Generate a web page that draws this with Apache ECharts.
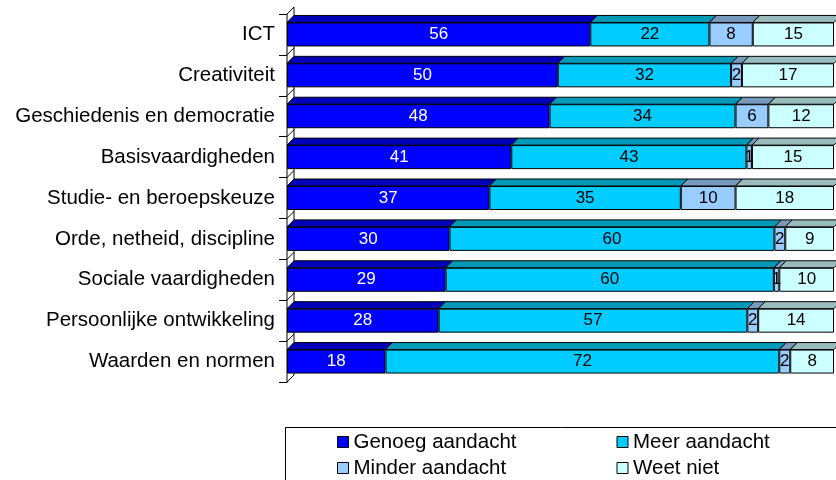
<!DOCTYPE html>
<html><head><meta charset="utf-8">
<script src="https://cdn.jsdelivr.net/npm/echarts@6/dist/echarts.min.js"></script>
<style>html,body{margin:0;padding:0;background:#fff}#c{width:836px;height:480px}</style>
</head><body><div id="c"></div>
<script>
const categories = ['ICT','Creativiteit','Geschiedenis en democratie','Basisvaardigheden','Studie- en beroepskeuze','Orde, netheid, discipline','Sociale vaardigheden','Persoonlijke ontwikkeling','Waarden en normen'];
const genoeg   = [56,50,48,41,37,30,29,28,18];
const meer     = [22,32,34,43,35,60,60,57,72];
const minder   = [8,2,6,1,10,2,1,2,2];
const weetNiet = [15,17,12,15,18,9,10,14,8];
const seriesNames = ['Genoeg aandacht','Meer aandacht','Minder aandacht','Weet niet'];

const raw = [genoeg, meer, minder, weetNiet];
const frontColors = ['#0000FF','#00CCFF','#99CCFF','#CCFFFF'];
const topColors = ['#0000B8','#0099B8','#7799BB','#99BBBB'];
const labelColors = ['#FFFFFF','#000000','#000000','#000000'];
const FONT = '"Liberation Sans", Arial, sans-serif';
const BAR_W = 24;
const D = 7;

// 100% stacked: each category's segments as share of its total
const totals = categories.map((c, i) => raw.reduce((s, arr) => s + arr[i], 0));
const norm = raw.map(arr => arr.map((v, i) => v / totals[i] * 100));

function renderTops(params, api) {
  const i = api.value(1);
  const c = api.coord([0, i]);
  const yTop = c[1] - BAR_W / 2;
  let cum = 0;
  const children = [];
  for (let s = 0; s < 4; s++) {
    const v = norm[s][i];
    const x0 = api.coord([cum, i])[0];
    const x1 = api.coord([cum + v, i])[0];
    cum += v;
    children.push({
      type: 'polygon',
      shape: { points: [[x0, yTop], [x1, yTop], [x1 + D, yTop - D], [x0 + D, yTop - D]] },
      style: { fill: topColors[s], stroke: '#000', lineWidth: 1 }
    });
  }
  return { type: 'group', children };
}

function renderWall(params, api) {
  const band = api.size([0, 1])[1];
  const c = api.coord([0, 0]);
  const x = c[0];
  const top = c[1] - band / 2;
  const bottom = top + categories.length * band;
  const children = [{
    type: 'polygon',
    shape: { points: [[x, bottom], [x + D, bottom - D], [x + D, top - D], [x, top]] },
    style: { fill: '#fff', stroke: '#000', lineWidth: 1 }
  }];
  for (let k = 1; k <= categories.length; k++) {
    const y = top + k * band;
    children.push({ type: 'line', shape: { x1: x, y1: y, x2: x + D, y2: y - D }, style: { stroke: '#000', lineWidth: 1 } });
  }
  return { type: 'group', children };
}

const barSeries = seriesNames.map((name, s) => ({
  name,
  type: 'bar',
  stack: 'total',
  barWidth: BAR_W,
  z: 5,
  data: norm[s],
  itemStyle: { color: frontColors[s], borderColor: '#000', borderWidth: 1 },
  label: {
    show: true,
    position: 'inside',
    color: labelColors[s],
    fontSize: 17,
    fontFamily: FONT,
    formatter: p => String(raw[s][p.dataIndex])
  },
  emphasis: { disabled: true }
}));

const chart = echarts.init(document.getElementById('c'), null, { renderer: 'canvas' });
chart.setOption({
  animation: false,
  backgroundColor: '#fff',
  grid: { left: 287, right: 2, top: 14, bottom: 98, containLabel: false },
  xAxis: { type: 'value', min: 0, max: 100, show: false },
  yAxis: {
    type: 'category',
    data: categories,
    inverse: true,
    axisLine: { show: true, lineStyle: { color: '#000', width: 1 } },
    axisTick: { show: true, length: 8, lineStyle: { color: '#000' } },
    axisLabel: { color: '#000', fontSize: 20.5, fontFamily: FONT, margin: 12 },
    splitLine: { show: false }
  },
  legend: {
    data: seriesNames,
    left: 337,
    top: 431,
    width: 560,
    padding: 0,
    itemGap: 4,
    itemWidth: 11,
    itemHeight: 11,
    icon: 'rect',
    itemStyle: { borderColor: '#000', borderWidth: 1 },
    textStyle: { fontSize: 20.5, fontFamily: FONT, color: '#000', width: 259, lineHeight: 22 },
    selectedMode: false
  },
  graphic: [{
    type: 'rect',
    shape: { x: 285.5, y: 427.5, width: 600, height: 80 },
    style: { fill: 'none', stroke: '#000', lineWidth: 1 },
    z: 0
  }],
  series: [
    { type: 'custom', name: 'wall', coordinateSystem: 'cartesian2d', z: 1, silent: true,
      data: [[0, 0]], encode: { x: 0, y: 1 }, renderItem: renderWall },
    { type: 'custom', name: 'tops', coordinateSystem: 'cartesian2d', z: 2, silent: true,
      data: categories.map((c, i) => [0, i]), encode: { x: 0, y: 1 }, renderItem: renderTops },
    ...barSeries
  ]
});
</script>
</body></html>
